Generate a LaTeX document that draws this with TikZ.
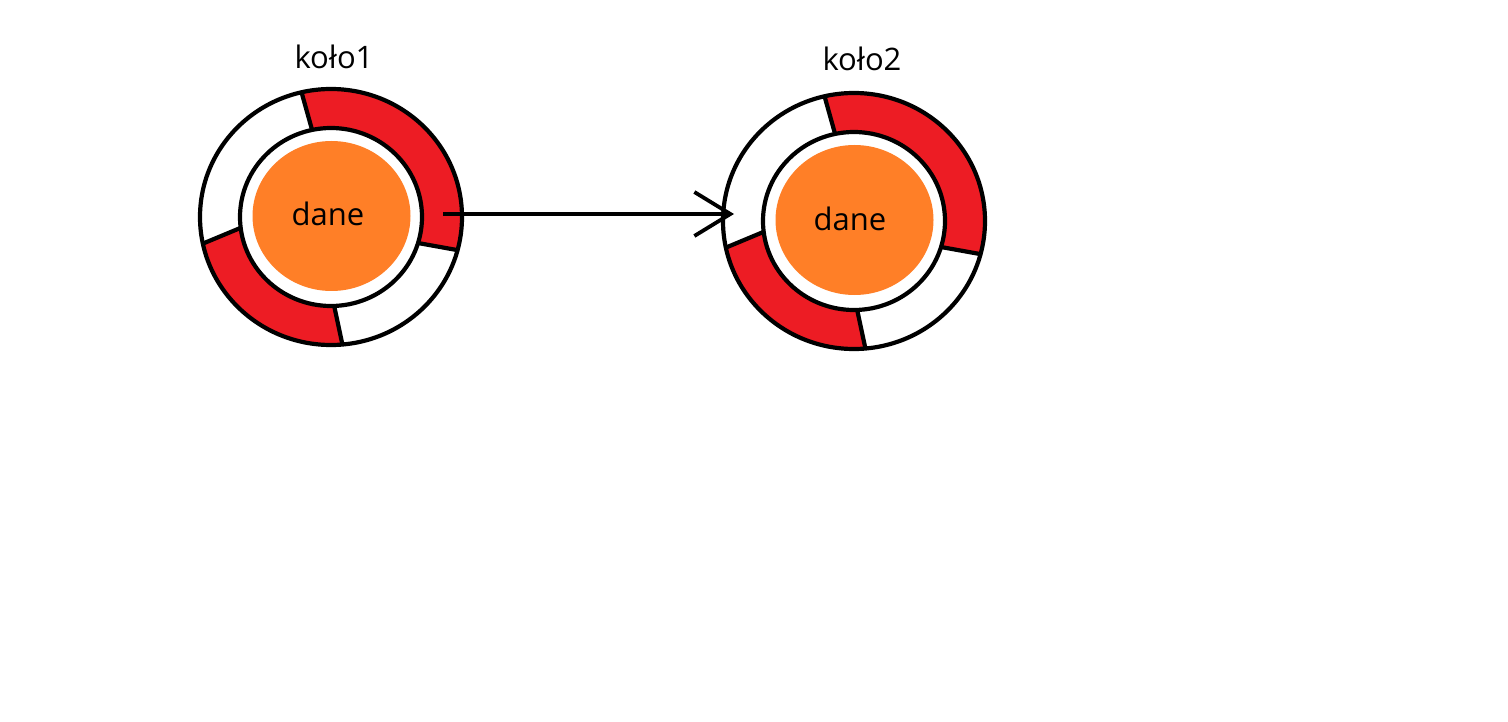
\documentclass[tikz,border=0pt]{standalone}
\usepackage{fontspec}
\setmainfont{Open Sans}
\usetikzlibrary{arrows.meta,shapes.geometric}
\definecolor{pred}{RGB}{237,28,36}
\definecolor{porange}{RGB}{255,127,39}
\tikzset{
  ring/.style={draw=black, line width=4.2pt},
  core/.style={ellipse, fill=porange, inner sep=0pt, minimum width=158pt, minimum height=150pt, font=\fontsize{31}{36}\selectfont},
  title/.style={inner sep=0pt, font=\fontsize{31}{36}\selectfont},
  arr/.style={line width=3.8pt, -{Straight Barb[length=36pt, width=44pt, line width=3.8pt]}},
  pics/wheel/.style={code={
    \fill[pred] (-15:131 and 128) arc[start angle=-15, end angle=103, x radius=131, y radius=128]
      -- (102:91 and 89) arc[start angle=102, end angle=-17, x radius=91, y radius=89] -- cycle;
    \fill[pred] (192:131 and 128) arc[start angle=192, end angle=275, x radius=131, y radius=128]
      -- (272:91 and 89) arc[start angle=272, end angle=187, x radius=91, y radius=89] -- cycle;
    \draw[ring] (0,0) ellipse[x radius=131, y radius=128];
    \draw[ring] (0,0) ellipse[x radius=91, y radius=89];
    \draw[ring] (103:131 and 128) -- (102:91 and 89);
    \draw[ring] (-15:131 and 128) -- (-17:91 and 89);
    \draw[ring] (275:131 and 128) -- (272:91 and 89);
    \draw[ring] (192:131 and 128) -- (187:91 and 89);
    \node[core] (-core) at (0.5,1) {};
  }}
}
\begin{document}
\begin{tikzpicture}[x=1pt,y=1pt]
\useasboundingbox (0,0) rectangle (1508,-722);
\pic (k1) at (331,-217) {wheel};
\pic (k2) at (854,-221) {wheel};
\node[title] (d1) at (328,-214) {dane};
\node[title] (d2) at (850,-219) {dane};
\node[title] (t1) at (334,-57) {koło1};
\node[title] (t2) at (862,-59) {koło2};
\coordinate (s) at (443,-214);
\coordinate (e) at (734,-214);
\draw[arr] (s) -- (e);
\end{tikzpicture}
\end{document}
